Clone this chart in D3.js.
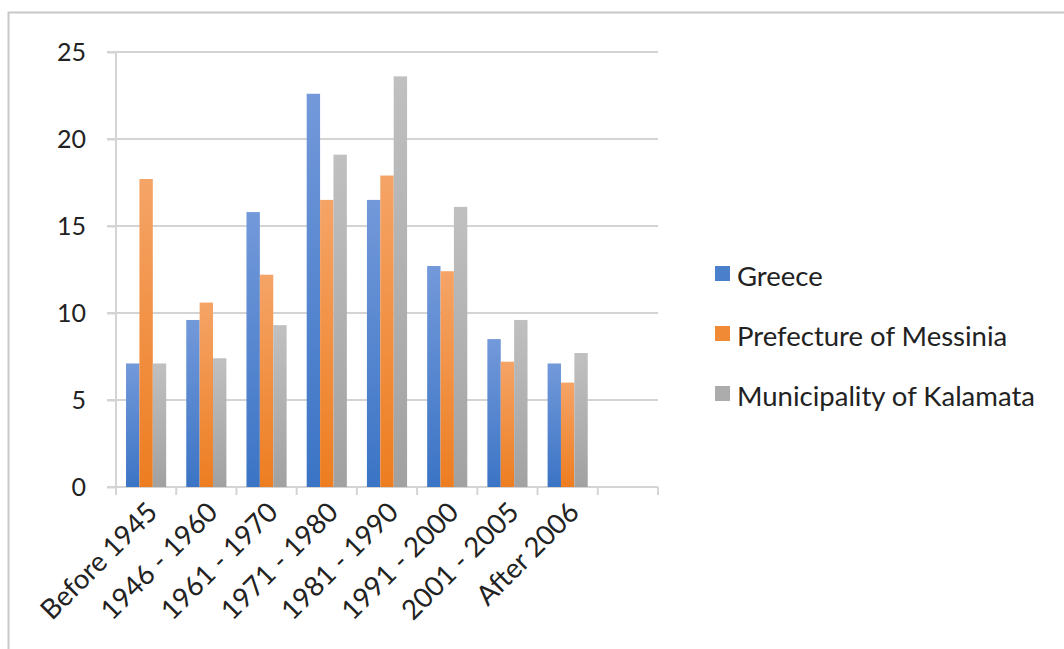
<!DOCTYPE html>
<html>
<head>
<meta charset="utf-8">
<script src="https://cdn.jsdelivr.net/npm/d3@7"></script>
<style>
  body { margin: 0; background: #fff; }
  text { font-family: Lato, "Open Sans", sans-serif; fill: #222; }
</style>
</head>
<body>
<div id="chart"></div>
<script>
// data
var categories = ["Before 1945", "1946 - 1960", "1961 - 1970", "1971 - 1980", "1981 - 1990",
                  "1991 - 2000", "2001 - 2005", "After 2006", ""];
var seriesNames = ["Greece", "Prefecture of Messinia", "Municipality of Kalamata"];
var greece      = [7.1, 9.6, 15.8, 22.6, 16.5, 12.7, 8.5, 7.1];
var messinia    = [17.7, 10.6, 12.2, 16.5, 17.9, 12.4, 7.2, 6.0];
var kalamata    = [7.1, 7.4, 9.3, 19.1, 23.6, 16.1, 9.6, 7.7];
var yTicks      = [0, 5, 10, 15, 20, 25];

var seriesValues = [greece, messinia, kalamata];
var gradStops = [["#7399da", "#3b74c5"], ["#f5a467", "#ed7d20"], ["#c0c0c0", "#a1a1a1"]];
var legendColors = ["#4a7fcc", "#f08a34", "#acacac"];

var W = 1064, H = 649;
var margin = {top: 52, right: 406, bottom: 162, left: 116},
    width = W - margin.left - margin.right,
    height = H - margin.top - margin.bottom;

var root = d3.select("#chart").append("svg")
    .attr("width", W)
    .attr("height", H);

// outer chart border
root.append("rect")
    .attr("x", 8.5).attr("y", 12.5)
    .attr("width", 1200).attr("height", 800)
    .attr("fill", "none")
    .attr("stroke", "#c8c8c8")
    .attr("stroke-width", 2);

var defs = root.append("defs");
gradStops.forEach(function(s, i) {
    var g = defs.append("linearGradient")
        .attr("id", "grad" + i)
        .attr("x1", 0).attr("y1", 0).attr("x2", 0).attr("y2", 1);
    g.append("stop").attr("offset", "0%").attr("stop-color", s[0]);
    g.append("stop").attr("offset", "100%").attr("stop-color", s[1]);
});

var svg = root.append("g")
    .attr("transform", "translate(" + margin.left + "," + margin.top + ")");

var x0 = d3.scaleBand()
    .domain(categories)
    .range([0, width])
    .padding(0);

var bw = x0.bandwidth();
var x1 = d3.scaleBand()
    .domain(d3.range(seriesNames.length))
    .range([bw / 6, bw * 5 / 6])
    .padding(0);

var y = d3.scaleLinear()
    .domain([0, 25])
    .range([height, 0]);

// gridlines
svg.append("g")
    .selectAll("line")
    .data(yTicks)
    .enter()
    .append("line")
    .attr("x1", -9).attr("x2", width)
    .attr("y1", function(d) { return y(d); })
    .attr("y2", function(d) { return y(d); })
    .attr("stroke", "#d4d4d4")
    .attr("stroke-width", 2);

// y axis
var yAxis = svg.append("g")
    .call(d3.axisLeft(y).tickValues(yTicks).tickSize(9).tickPadding(21).tickSizeOuter(0));
yAxis.select(".domain").remove();
yAxis.selectAll(".tick line").attr("stroke", "#d4d4d4").attr("stroke-width", 2);
yAxis.selectAll(".tick text")
    .style("font-size", "25px")
    .attr("fill", "#222");

svg.append("line")
    .attr("x1", 0).attr("x2", 0)
    .attr("y1", 0).attr("y2", height + 8)
    .attr("stroke", "#d4d4d4")
    .attr("stroke-width", 2);

// x axis boundary ticks
var bounds = categories.map(function(c) { return x0(c); }).concat([width]);
svg.append("g")
    .selectAll("line")
    .data(bounds)
    .enter()
    .append("line")
    .attr("x1", function(d) { return d; })
    .attr("x2", function(d) { return d; })
    .attr("y1", height).attr("y2", height + 8)
    .attr("stroke", "#d4d4d4")
    .attr("stroke-width", 2);

// x labels
var xAxis = svg.append("g")
    .attr("transform", "translate(0," + height + ")")
    .call(d3.axisBottom(x0).tickSize(0));
xAxis.select(".domain").remove();
xAxis.selectAll(".tick text")
    .style("font-size", "27.5px")
    .attr("fill", "#222")
    .attr("text-anchor", "end")
    .attr("y", 0)
    .attr("dy", 0)
    .attr("transform", "translate(13,27) rotate(-45)");

// bars
var groups = svg.append("g")
    .selectAll("g")
    .data(seriesValues)
    .enter()
    .append("g")
    .attr("fill", function(d, i) { return "url(#grad" + i + ")"; });

groups.each(function(vals, si) {
    d3.select(this).selectAll("rect")
        .data(vals)
        .enter()
        .append("rect")
        .attr("x", function(d, i) { return x0(categories[i]) + x1(si); })
        .attr("y", function(d) { return y(d); })
        .attr("width", x1.bandwidth())
        .attr("height", function(d) { return height - y(d); });
});

// legend
var legend = root.append("g")
    .attr("transform", "translate(715,266)");

var item = legend.selectAll("g")
    .data(seriesNames)
    .enter()
    .append("g")
    .attr("transform", function(d, i) { return "translate(0," + (i * 60) + ")"; });

item.append("rect")
    .attr("width", 15).attr("height", 15)
    .attr("fill", function(d, i) { return legendColors[i]; });

item.append("text")
    .attr("x", 22)
    .attr("y", 20)
    .style("font-size", "27.5px")
    .text(function(d) { return d; });
</script>
</body>
</html>
